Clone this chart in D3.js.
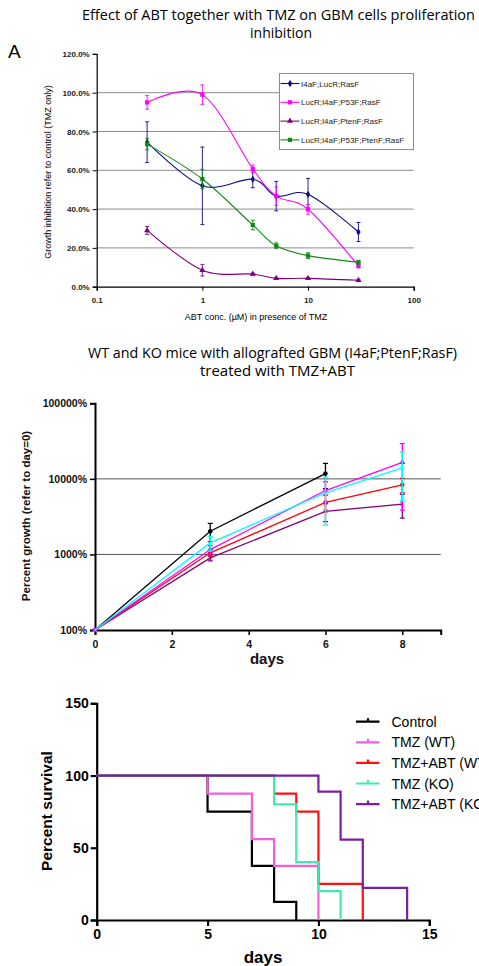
<!DOCTYPE html>
<html>
<head>
<meta charset="utf-8">
<script src="https://d3js.org/d3.v7.min.js"></script>
<style>
  body { margin: 0; background: #fff; }
  svg { display: block; }
  text { font-family: "Liberation Sans", Arial, sans-serif; }
  .title { font-family: "Open Sans", "Noto Sans", sans-serif; }
</style>
</head>
<body>
<div id="chart"></div>
<script>

// ---- panel A: growth inhibition vs ABT concentration ----
var abtConc = [0.3, 1, 3, 5, 10, 30];
var abtNames = ["I4aF;LucR;RasF", "LucR;I4aF;P53F;RasF", "LucR;I4aF;PtenF;RasF", "LucR;I4aF;P53F;PtenF;RasF"];
var abtColors = ["#0b0b86", "#ff00ff", "#800080", "#13891a"];
var abtShapes = ["diamond", "square", "triangle", "square"];
var inhibI4aF      = [74.5, 52.0, 55.4, 46.7, 47.6, 28.2];
var inhibP53       = [95.0, 99.0, 60.7, 46.7, 39.9, 10.7];
var inhibPten      = [29.0,  8.5,  6.5,  4.3,  4.3,  3.3];
var inhibP53Pten   = [73.5, 55.5, 31.8, 21.1, 16.0, 12.6];
var errI4aF        = [10.5, 20.0,  4.4,  7.6,  8.2,  4.9];
var errP53         = [ 3.5,  5.0,  2.0,  4.7,  2.5,  1.0];
var errPten        = [ 2.0,  3.0,  0.5,  0.5,  0.5,  0.5];
var errP53Pten     = [ 3.0,  5.0,  2.5,  1.5,  1.5,  1.0];
var inhibTicks = [0, 20, 40, 60, 80, 100, 120];
var concTicks = [0.1, 1, 10, 100];

// ---- panel B: tumour growth in mice ----
var growthDays = [0, 3, 6, 8];
var groupNames = ["Control", "TMZ (WT)", "TMZ+ABT (WT)", "TMZ (KO)", "TMZ+ABT (KO)"];
var growthControl  = [100, 2030, 11750];
var growthTmzWT    = [100, 1160, 7010, 16560];
var growthTmzAbtWT = [100, 1050, 4880, 8340];
var growthTmzKO    = [100, 1420, 6540, 13960];
var growthTmzAbtKO = [100, 900, 3720, 4630];
var semControl  = [0, 550, 4300];
var semTmzWT    = [0, 150, 2150, 12700];
var semTmzAbtWT = [0, 100, 1200, 1800];
var semTmzKO    = [0, 310, 4100, 8800];
var semTmzAbtKO = [0, 80, 1000, 1600];
var growthTicks = [100, 1000, 10000, 100000];
var dayTicksB = [0, 2, 4, 6, 8];

// ---- panel C: survival ----
var survControl  = [[0, 100], [5, 75], [7, 37.5], [8, 12.5], [9, 0]];
var survTmzWT    = [[0, 100], [5, 87.5], [7, 56], [8, 37.5], [10, 0]];
var survTmzAbtWT = [[0, 100], [8, 87.5], [9, 75], [10, 25], [12, 0]];
var survTmzKO    = [[0, 100], [8, 80], [9, 40], [10, 20], [11, 0]];
var survTmzAbtKO = [[0, 100], [10, 88.9], [11, 55.6], [12, 22.2], [14, 0]];
var survTicks = [0, 50, 100, 150];
var dayTicksC = [0, 5, 10, 15];

var W = 479, H = 966;

var svg = d3.select("#chart").append("svg")
    .attr("width", W)
    .attr("height", H);

function symbolFor(name) {
    if (name === "diamond") return d3.symbolDiamond;
    if (name === "triangle") return d3.symbolTriangle;
    if (name === "square") return d3.symbolSquare;
    if (name === "circle") return d3.symbolCircle;
    return d3.symbolX;
}

// =========================== panel A ===========================
(function() {
    var g = svg.append("g");

    g.append("text")
        .attr("class", "title")
        .attr("x", 278.5).attr("y", 20)
        .attr("text-anchor", "middle")
        .attr("textLength", 393)
        .attr("lengthAdjust", "spacingAndGlyphs")
        .style("font-size", "15px")
        .text("Effect of ABT together with TMZ on GBM cells proliferation");
    g.append("text")
        .attr("class", "title")
        .attr("x", 281).attr("y", 37.5)
        .attr("text-anchor", "middle")
        .style("font-size", "15px")
        .attr("textLength", 62)
        .attr("lengthAdjust", "spacingAndGlyphs")
        .text("inhibition");

    g.append("text")
        .attr("x", 8).attr("y", 58)
        .style("font-size", "19px")
        .text("A");

    var x = d3.scaleLog().domain([0.1, 100]).range([96.7, 413.7]);
    var y = d3.scaleLinear().domain([0, 120]).range([286.7, 53.9]);

    // gridlines
    g.selectAll(".gridA").data(inhibTicks.filter(function(d) { return d > 0 && d < 120; }))
        .enter().append("line")
        .attr("x1", x(0.1)).attr("x2", x(100))
        .attr("y1", function(d) { return y(d); })
        .attr("y2", function(d) { return y(d); })
        .attr("stroke", "#8c8c8c")
        .attr("stroke-width", 1);

    var yAxis = g.append("g")
        .attr("transform", "translate(" + x(0.1) + ",0)")
        .call(d3.axisLeft(y).tickValues(inhibTicks).tickSize(4).tickPadding(3)
            .tickFormat(function(d) { return d.toFixed(1) + "%"; }));
    var xAxis = g.append("g")
        .attr("transform", "translate(0," + y(0) + ")")
        .call(d3.axisBottom(x).tickValues(concTicks).tickSize(4).tickPadding(7)
            .tickFormat(function(d) { return d; }));
    [yAxis, xAxis].forEach(function(a) {
        a.select(".domain").attr("stroke", "#000").attr("stroke-width", 1.2);
        a.selectAll(".tick line").attr("stroke", "#000");
        a.selectAll("text").style("font-size", "8px").style("font-weight", "bold")
            .style("font-family", "'Liberation Sans', Arial, sans-serif").attr("fill", "#222");
    });

    g.append("text")
        .attr("transform", "translate(51,172) rotate(-90)")
        .attr("text-anchor", "middle")
        .style("font-size", "9px")
        .text("Growth inhibition refer to control (TMZ only)");
    g.append("text")
        .attr("x", 256).attr("y", 320)
        .attr("text-anchor", "middle")
        .style("font-size", "9px")
        .text("ABT conc. (\u00b5M) in presence of TMZ");

    var means = [inhibI4aF, inhibP53, inhibPten, inhibP53Pten];
    var errs = [errI4aF, errP53, errPten, errP53Pten];

    var line = d3.line()
        .x(function(d) { return x(d[0]); })
        .y(function(d) { return y(d[1]); })
        .curve(d3.curveCatmullRom.alpha(0));

    means.forEach(function(vals, i) {
        var pts = abtConc.map(function(c, j) { return [c, vals[j], errs[i][j]]; });
        var s = g.append("g");
        s.append("path")
            .datum(pts)
            .attr("d", line)
            .attr("fill", "none")
            .attr("stroke", abtColors[i])
            .attr("stroke-width", 1.1);
        pts.forEach(function(p) {
            var cx = x(p[0]);
            s.append("path")
                .attr("d", "M" + cx + "," + y(p[1] - p[2]) + "V" + y(p[1] + p[2]) +
                    "M" + (cx - 2) + "," + y(p[1] - p[2]) + "h4" +
                    "M" + (cx - 2) + "," + y(p[1] + p[2]) + "h4")
                .attr("stroke", abtColors[i])
                .attr("stroke-width", 0.9)
                .attr("fill", "none");
        });
        s.selectAll(".mk").data(pts).enter().append("path")
            .attr("transform", function(p) { return "translate(" + x(p[0]) + "," + y(p[1]) + ")"; })
            .attr("d", d3.symbol().type(symbolFor(abtShapes[i])).size(abtShapes[i] === "square" ? 18 : 16))
            .attr("fill", abtColors[i]);
    });

    // legend
    var lg = g.append("g");
    lg.append("rect")
        .attr("x", 279.5).attr("y", 73.5)
        .attr("width", 134).attr("height", 76)
        .attr("fill", "#fff")
        .attr("stroke", "#8c8c8c");
    abtNames.forEach(function(n, i) {
        var ly = 83.5 + i * 18.8;
        lg.append("line")
            .attr("x1", 280.5).attr("x2", 299.5)
            .attr("y1", ly).attr("y2", ly)
            .attr("stroke", abtColors[i]).attr("stroke-width", 1.1);
        lg.append("path")
            .attr("transform", "translate(290," + ly + ")")
            .attr("d", d3.symbol().type(symbolFor(abtShapes[i])).size(abtShapes[i] === "square" ? 18 : 16))
            .attr("fill", abtColors[i]);
        lg.append("text")
            .attr("x", 301).attr("y", ly + 3)
            .style("font-size", "8px")
            .attr("fill", "#222")
            .text(n);
    });
})();

// =========================== panel B ===========================
(function() {
    var g = svg.append("g");

    g.append("text")
        .attr("class", "title")
        .attr("x", 272.5).attr("y", 357.5)
        .attr("text-anchor", "middle")
        .attr("textLength", 369)
        .attr("lengthAdjust", "spacingAndGlyphs")
        .style("font-size", "15px")
        .text("WT and KO mice with allografted GBM (I4aF;PtenF;RasF)");
    g.append("text")
        .attr("class", "title")
        .attr("x", 277.5).attr("y", 375.5)
        .attr("text-anchor", "middle")
        .attr("textLength", 155)
        .attr("lengthAdjust", "spacingAndGlyphs")
        .style("font-size", "15px")
        .text("treated with TMZ+ABT");

    var x = d3.scaleLinear().domain([0, 9]).range([95, 440.7]);
    var y = d3.scaleLog().domain([100, 100000]).range([630, 403.3]);

    g.selectAll(".gridB").data([1000, 10000])
        .enter().append("line")
        .attr("x1", x(0)).attr("x2", x(9))
        .attr("y1", function(d) { return y(d); })
        .attr("y2", function(d) { return y(d); })
        .attr("stroke", "#555")
        .attr("stroke-width", 1);

    var yAxis = g.append("g")
        .attr("transform", "translate(" + x(0) + ",0)")
        .call(d3.axisLeft(y).tickValues(growthTicks).tickSize(5).tickPadding(3)
            .tickFormat(function(d) { return d + "%"; }));
    var xAxis = g.append("g")
        .attr("transform", "translate(0," + y(100) + ")")
        .call(d3.axisBottom(x).tickValues(dayTicksB).tickSize(5).tickPadding(6)
            .tickFormat(function(d) { return d; }));
    [yAxis, xAxis].forEach(function(a) {
        a.select(".domain").attr("stroke", "#000").attr("stroke-width", 2);
        a.selectAll(".tick line").attr("stroke", "#000").attr("stroke-width", 1.5);
        a.selectAll("text").style("font-size", "10.5px").style("font-weight", "bold")
            .style("font-family", "'Liberation Sans', Arial, sans-serif").attr("fill", "#111");
    });

    g.append("text")
        .attr("transform", "translate(30,516) rotate(-90)")
        .attr("text-anchor", "middle")
        .style("font-size", "11.5px")
        .style("font-weight", "bold")
        .attr("fill", "#111")
        .text("Percent growth (refer to day=0)");
    g.append("text")
        .attr("x", 267).attr("y", 664)
        .attr("text-anchor", "middle")
        .style("font-size", "15px")
        .style("font-weight", "bold")
        .attr("fill", "#111")
        .text("days");

    var series = [growthControl, growthTmzWT, growthTmzAbtWT, growthTmzKO, growthTmzAbtKO];
    var sems = [semControl, semTmzWT, semTmzAbtWT, semTmzKO, semTmzAbtKO];
    var colors = ["#000000", "#ff00ff", "#ff0000", "#00ffff", "#800080"];
    var shapes = ["circle", "triangle", "circle", "x", "x"];
    var drawOrder = [0, 4, 2, 1, 3];

    var line = d3.line()
        .x(function(d) { return x(d[0]); })
        .y(function(d) { return y(d[1]); });

    drawOrder.forEach(function(i) {
        var pts = series[i].map(function(v, j) { return [growthDays[j], v, sems[i][j]]; });
        var s = g.append("g");
        pts.forEach(function(p) {
            if (!p[2]) return;
            var cx = x(p[0]);
            var top = y(p[1] + p[2]), bot = y(Math.max(p[1] - p[2], 120));
            s.append("path")
                .attr("d", "M" + cx + "," + bot + "V" + top +
                    "M" + (cx - 2.5) + "," + top + "h5" +
                    "M" + (cx - 2.5) + "," + bot + "h5")
                .attr("stroke", colors[i])
                .attr("stroke-width", 1.3)
                .attr("fill", "none");
        });
        s.append("path")
            .datum(pts)
            .attr("d", line)
            .attr("fill", "none")
            .attr("stroke", colors[i])
            .attr("stroke-width", 1.3);
        s.selectAll(".mk").data(pts).enter().append("path")
            .attr("transform", function(p) { return "translate(" + x(p[0]) + "," + y(p[1]) + ")"; })
            .attr("d", d3.symbol().type(symbolFor(shapes[i])).size(shapes[i] === "x" ? 14 : 16))
            .attr("fill", colors[i])
            .attr("stroke", shapes[i] === "x" ? colors[i] : "none")
            .attr("stroke-width", 0.6);
    });
})();

// =========================== panel C ===========================
(function() {
    var g = svg.append("g");

    var x = d3.scaleLinear().domain([0, 15]).range([96.7, 429.3]);
    var y = d3.scaleLinear().domain([0, 150]).range([920, 703.3]);

    var yAxis = g.append("g")
        .attr("transform", "translate(" + x(0) + ",0)")
        .call(d3.axisLeft(y).tickValues(survTicks).tickSize(6).tickPadding(2));
    var xAxis = g.append("g")
        .attr("transform", "translate(0," + y(0) + ")")
        .call(d3.axisBottom(x).tickValues(dayTicksC).tickSize(6).tickPadding(3));
    [yAxis, xAxis].forEach(function(a) {
        a.select(".domain").attr("stroke", "#000").attr("stroke-width", 2.2);
        a.selectAll(".tick line").attr("stroke", "#000").attr("stroke-width", 2.2);
        a.selectAll("text").style("font-size", "14px").style("font-weight", "bold")
            .style("font-family", "'Liberation Sans', Arial, sans-serif").attr("fill", "#000");
    });

    g.append("text")
        .attr("transform", "translate(52,811) rotate(-90)")
        .attr("text-anchor", "middle")
        .style("font-size", "15.5px")
        .style("font-weight", "bold")
        .text("Percent survival");
    g.append("text")
        .attr("x", 263).attr("y", 963)
        .attr("text-anchor", "middle")
        .style("font-size", "17px")
        .style("font-weight", "bold")
        .text("days");

    var curves = [survControl, survTmzWT, survTmzAbtWT, survTmzKO, survTmzAbtKO];
    var colors = ["#000000", "#f060dc", "#ff1010", "#40eab0", "#7a1fa0"];

    var step = d3.line()
        .x(function(d) { return x(d[0]); })
        .y(function(d) { return y(d[1]); })
        .curve(d3.curveStepAfter);

    curves.forEach(function(c, i) {
        g.append("path")
            .datum(c)
            .attr("d", step)
            .attr("fill", "none")
            .attr("stroke", colors[i])
            .attr("stroke-width", 2.2);
    });

    // legend
    groupNames.forEach(function(n, i) {
        var ly = 721.7 + i * 20.6;
        g.append("path")
            .attr("d", "M356," + ly + "H379.5M368," + ly + "v-3.5")
            .attr("stroke", colors[i])
            .attr("stroke-width", 2.2)
            .attr("fill", "none");
        g.append("text")
            .attr("x", 391.5).attr("y", ly + 5)
            .style("font-size", "14px")
            .text(n);
    });
})();

</script>
</body>
</html>
